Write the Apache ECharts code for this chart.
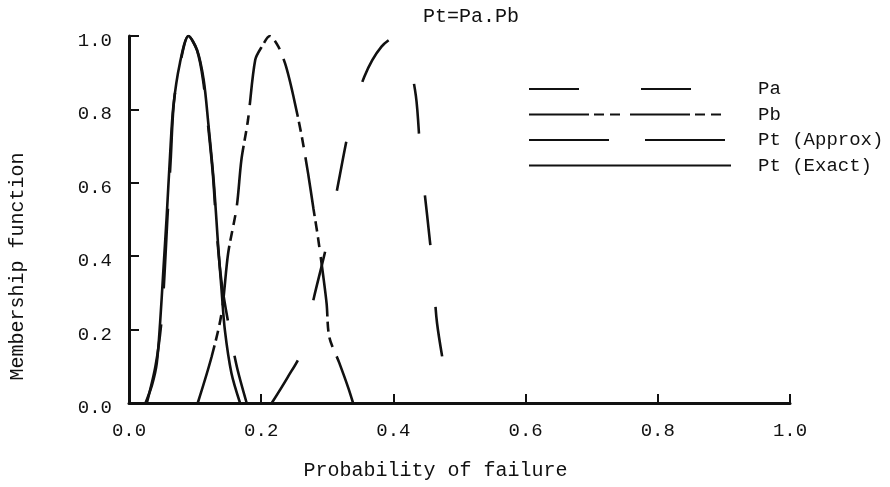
<!DOCTYPE html>
<html>
<head>
<meta charset="utf-8">
<script src="https://cdn.jsdelivr.net/npm/echarts@6/dist/echarts.min.js"></script>
<style>html,body{margin:0;padding:0;background:#fff;}#c{width:890px;height:487px;}</style>
</head>
<body>
<div id="c"></div>
<script>
// Pa membership function
var paX = [0.216, 0.240, 0.261, 0.280, 0.300, 0.317, 0.335, 0.356, 0.382, 0.407, 0.419, 0.434, 0.441, 0.451, 0.460, 0.466, 0.481, 0.485];
var paY = [0.000, 0.070, 0.139, 0.289, 0.439, 0.602, 0.763, 0.889, 0.971, 1.000, 0.966, 0.837, 0.676, 0.512, 0.357, 0.218, 0.049, 0.000];
// Pb membership function
var pbX = [0.104, 0.125, 0.140, 0.150, 0.163, 0.170, 0.180, 0.191, 0.201, 0.213, 0.226, 0.236, 0.243, 0.251, 0.261, 0.271, 0.279, 0.286, 0.294, 0.299, 0.303, 0.318, 0.332, 0.339];
var pbY = [0.000, 0.126, 0.244, 0.408, 0.535, 0.662, 0.771, 0.935, 0.971, 1.000, 0.971, 0.926, 0.880, 0.817, 0.730, 0.625, 0.530, 0.450, 0.344, 0.270, 0.180, 0.110, 0.040, 0.000];
// Pt approximate
var ptaX = [0.027, 0.040, 0.049, 0.054, 0.058, 0.063, 0.068, 0.078, 0.090, 0.103, 0.112, 0.120, 0.127, 0.133, 0.140, 0.150, 0.163, 0.178];
var ptaY = [0.000, 0.100, 0.220, 0.360, 0.500, 0.660, 0.820, 0.930, 1.000, 0.960, 0.880, 0.750, 0.620, 0.460, 0.330, 0.220, 0.100, 0.000];
// Pt exact
var pteX = [0.025, 0.035, 0.042, 0.047, 0.052, 0.057, 0.062, 0.067, 0.077, 0.090, 0.103, 0.113, 0.120, 0.128, 0.135, 0.140, 0.145, 0.155, 0.168];
var pteY = [0.000, 0.050, 0.108, 0.217, 0.362, 0.508, 0.671, 0.807, 0.926, 1.000, 0.962, 0.880, 0.762, 0.608, 0.426, 0.308, 0.199, 0.081, 0.000];

var seriesNames = ['Pa', 'Pb', 'Pt (Approx)', 'Pt (Exact)'];
var xTicks = ['0.0', '0.2', '0.4', '0.6', '0.8', '1.0'];
var yTicks = ['0.0', '0.2', '0.4', '0.6', '0.8', '1.0'];
var titleText = 'Pt=Pa.Pb';
var xName = 'Probability of failure';
var yName = 'Membership function';

function pairs(xs, ys) { return xs.map(function (x, i) { return [x, ys[i]]; }); }

var FONT = '"Liberation Mono", "DejaVu Sans Mono", monospace';
var INK = '#111';

function mkSeries(name, xs, ys, dash) {
  return {
    name: name, type: 'line', data: pairs(xs, ys), smooth: 0.3,
    symbol: 'none', silent: true,
    itemStyle: { color: INK },
    lineStyle: { color: INK, width: 2.6, type: dash }
  };
}

var chart = echarts.init(document.getElementById('c'), null, { renderer: 'canvas' });
chart.setOption({
  animation: false,
  backgroundColor: '#fff',
  title: {
    text: titleText, left: 423, top: 7, padding: 0,
    textStyle: { fontFamily: FONT, fontSize: 20, fontWeight: 'normal', color: INK }
  },
  legend: {
    orient: 'vertical', left: 528, top: 79, padding: 0,
    itemWidth: 202, itemHeight: 20, itemGap: 5.5,
    data: seriesNames,
    itemStyle: { opacity: 0 },
    textStyle: { fontFamily: FONT, fontSize: 19, color: INK, padding: [0, 0, 0, 22], lineHeight: 20 },
    selectedMode: false
  },
  grid: { left: 127, right: 100, top: 36, bottom: 84, containLabel: false },
  xAxis: {
    type: 'value', min: 0, max: 1, interval: 0.2,
    name: xName, nameLocation: 'middle', nameGap: 58,
    nameTextStyle: { fontFamily: FONT, fontSize: 20, color: INK, padding: [0, 48, 0, 0] },
    axisLine: { lineStyle: { color: INK, width: 3 } },
    axisTick: { inside: true, length: 9, lineStyle: { color: INK, width: 2 } },
    splitLine: { show: false },
    axisLabel: {
      fontFamily: FONT, fontSize: 19, color: INK, margin: 18,
      formatter: function (v) { return xTicks[Math.round(v / 0.2)]; }
    }
  },
  yAxis: {
    type: 'value', min: 0, max: 1, interval: 0.2,
    name: yName, nameLocation: 'middle', nameGap: 101, nameRotate: 90,
    nameTextStyle: { fontFamily: FONT, fontSize: 20, color: INK, padding: [0, 94, 0, 0] },
    axisLine: { show: true, lineStyle: { color: INK, width: 3 } },
    axisTick: { show: true, inside: true, length: 10, lineStyle: { color: INK, width: 2 } },
    splitLine: { show: false },
    axisLabel: {
      fontFamily: FONT, fontSize: 19, color: INK, margin: 17,
      verticalAlign: 'top', lineHeight: 10,
      formatter: function (v) { return yTicks[Math.round(v / 0.2)]; }
    }
  },
  series: [
    mkSeries(seriesNames[0], paX, paY, [50, 62]),
    mkSeries(seriesNames[1], pbX, pbY, [60, 5, 10, 6, 10, 10]),
    mkSeries(seriesNames[2], ptaX, ptaY, [80, 36]),
    mkSeries(seriesNames[3], pteX, pteY, 'solid')
  ]
});
</script>
</body>
</html>
